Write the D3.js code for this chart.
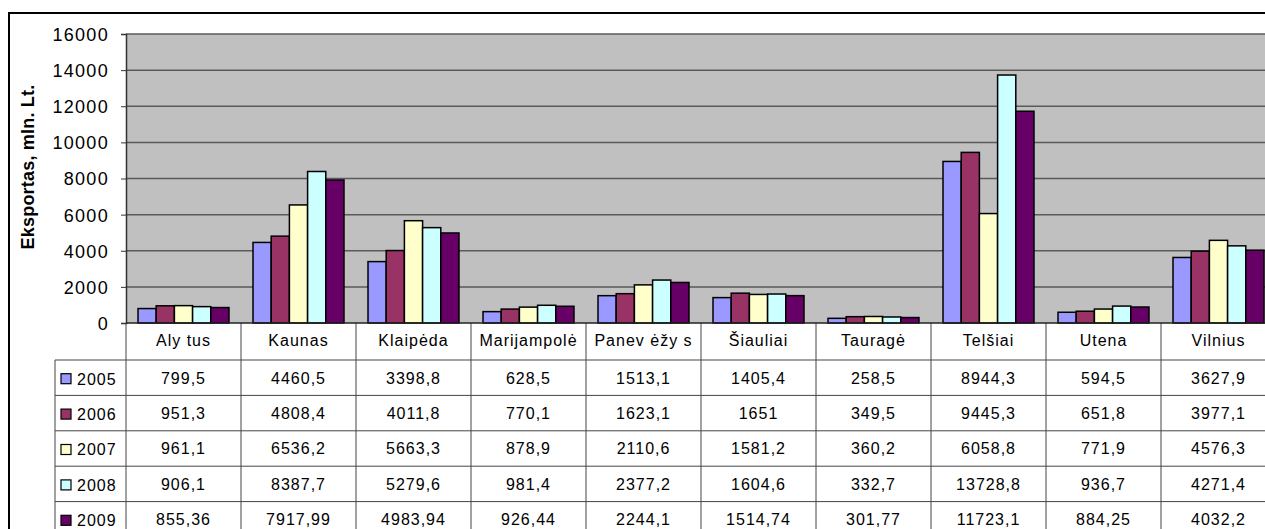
<!DOCTYPE html>
<html>
<head>
<meta charset="utf-8">
<script src="https://cdn.jsdelivr.net/npm/d3@7"></script>
<style>
  body { margin: 0; background: #fff; }
  svg { display: block; font-family: "Liberation Sans", Arial, sans-serif; }
  .tick text { font-size: 18px; letter-spacing: 1.3px; fill: #000; }
  .cell { font-size: 16px; letter-spacing: 1px; fill: #000; }
</style>
</head>
<body>
<svg id="chart" width="1265" height="529"></svg>
<script>
const categories = ["Aly tus", "Kaunas", "Klaipėda", "Marijampolė", "Panev ėžy s",
  "Šiauliai", "Tauragė", "Telšiai", "Utena", "Vilnius"];
const years = ["2005", "2006", "2007", "2008", "2009"];
const s2005 = [799.5, 4460.5, 3398.8, 628.5, 1513.1, 1405.4, 258.5, 8944.3, 594.5, 3627.9];
const s2006 = [951.3, 4808.4, 4011.8, 770.1, 1623.1, 1651, 349.5, 9445.3, 651.8, 3977.1];
const s2007 = [961.1, 6536.2, 5663.3, 878.9, 2110.6, 1581.2, 360.2, 6058.8, 771.9, 4576.3];
const s2008 = [906.1, 8387.7, 5279.6, 981.4, 2377.2, 1604.6, 332.7, 13728.8, 936.7, 4271.4];
const s2009 = [855.36, 7917.99, 4983.94, 926.44, 2244.1, 1514.74, 301.77, 11723.1, 884.25, 4032.2];
const yTicks = [0, 2000, 4000, 6000, 8000, 10000, 12000, 14000, 16000];
const colors = ["#9999ff", "#993366", "#ffffcc", "#ccffff", "#660066"];

const series = [s2005, s2006, s2007, s2008, s2009];

const plot = { left: 126, right: 1276, top: 34, bottom: 323 };
const catRowBottom = 360;
const legendLeft = 55;

const svg = d3.select("#chart");

const x = d3.scaleBand().domain(categories).range([plot.left, plot.right]);
const x1 = d3.scaleBand().domain(years).range([0, x.bandwidth()]).paddingOuter(0.66);
const y = d3.scaleLinear().domain([0, 16000]).range([plot.bottom, plot.top]);
const rowY = d3.scaleBand().domain(years).range([catRowBottom, catRowBottom + 177]);

// outer frame
svg.append("rect")
  .attr("x", 9).attr("y", 13)
  .attr("width", 1300).attr("height", 600)
  .attr("fill", "none").attr("stroke", "#000").attr("stroke-width", 2);

// plot background
svg.append("rect")
  .attr("x", plot.left).attr("y", plot.top)
  .attr("width", plot.right - plot.left).attr("height", plot.bottom - plot.top)
  .attr("fill", "#c0c0c0");

// gridlines
svg.append("g").selectAll("line")
  .data(yTicks.slice(1))
  .join("line")
  .attr("x1", plot.left).attr("x2", plot.right)
  .attr("y1", d => y(d)).attr("y2", d => y(d))
  .attr("stroke", "#5a5a5a").attr("stroke-width", 1.5);

// bars
const groups = svg.append("g").selectAll("g")
  .data(categories)
  .join("g")
  .attr("transform", c => `translate(${x(c)},0)`);

groups.selectAll("rect")
  .data((c, i) => years.map((yr, j) => ({ yr, v: series[j][i], j })))
  .join("rect")
  .attr("x", d => x1(d.yr))
  .attr("y", d => y(d.v))
  .attr("width", x1.bandwidth())
  .attr("height", d => y(0) - y(d.v))
  .attr("fill", d => colors[d.j])
  .attr("stroke", "#000")
  .attr("stroke-width", 1.5);

// y axis
const yAxis = d3.axisLeft(y).tickValues(yTicks).tickFormat(d3.format("d"))
  .tickSize(5).tickPadding(12);
const ga = svg.append("g")
  .attr("transform", `translate(${plot.left},0)`)
  .call(yAxis)
  .attr("font-family", null)
  .attr("font-size", null);
ga.select(".domain").attr("stroke", "#333").attr("stroke-width", 1.5);
ga.selectAll(".tick line").attr("stroke", "#333");
ga.selectAll(".tick text").attr("dy", "0.36em");

svg.append("text")
  .attr("transform", "translate(34,167) rotate(-90)")
  .attr("text-anchor", "middle")
  .attr("font-size", 18)
  .attr("font-weight", "bold")
  .attr("letter-spacing", "0.2px")
  .text("Eksportas, mln. Lt.");

// data table
const table = svg.append("g");
const lineColor = "#444";
const tableBottom = 560;

// horizontal row lines
table.selectAll("line.h")
  .data(years)
  .join("line")
  .attr("class", "h")
  .attr("x1", legendLeft).attr("x2", plot.right)
  .attr("y1", yr => rowY(yr)).attr("y2", yr => rowY(yr))
  .attr("stroke", lineColor).attr("stroke-width", 1);

// vertical column lines
table.selectAll("line.v")
  .data(categories)
  .join("line")
  .attr("class", "v")
  .attr("x1", c => x(c) + x.bandwidth()).attr("x2", c => x(c) + x.bandwidth())
  .attr("y1", plot.bottom).attr("y2", tableBottom)
  .attr("stroke", lineColor).attr("stroke-width", 1);
table.append("line")
  .attr("x1", plot.left).attr("x2", plot.left)
  .attr("y1", plot.bottom).attr("y2", tableBottom)
  .attr("stroke", lineColor).attr("stroke-width", 1);
table.append("line")
  .attr("x1", legendLeft).attr("x2", legendLeft)
  .attr("y1", catRowBottom).attr("y2", tableBottom)
  .attr("stroke", lineColor).attr("stroke-width", 1);

// x axis line
svg.append("line")
  .attr("x1", plot.left).attr("x2", plot.right)
  .attr("y1", plot.bottom).attr("y2", plot.bottom)
  .attr("stroke", "#222").attr("stroke-width", 1.5);

// category labels
table.selectAll("text.cat")
  .data(categories)
  .join("text")
  .attr("class", "cell cat")
  .attr("x", c => x(c) + x.bandwidth() / 2)
  .attr("y", plot.bottom + 23)
  .attr("text-anchor", "middle")
  .text(c => c);

// legend keys and year labels
const mid = rowY.bandwidth() / 2;
const rows = table.selectAll("g.row")
  .data(years)
  .join("g")
  .attr("class", "row")
  .attr("transform", yr => `translate(0,${rowY(yr)})`);

rows.append("rect")
  .attr("x", 61).attr("y", mid - 4)
  .attr("width", 10).attr("height", 10)
  .attr("fill", (yr, j) => colors[j])
  .attr("stroke", "#000").attr("stroke-width", 1.2);

rows.append("text")
  .attr("class", "cell")
  .attr("x", 77).attr("y", mid + 7)
  .text(yr => yr);

const fmt = v => String(v).replace(".", ",");

rows.selectAll("text.val")
  .data((yr, j) => categories.map((c, i) => ({ c, v: series[j][i] })))
  .join("text")
  .attr("class", "cell val")
  .attr("x", d => x(d.c) + x.bandwidth() / 2)
  .attr("y", mid + 6)
  .attr("text-anchor", "middle")
  .text(d => fmt(d.v));
</script>
</body>
</html>
